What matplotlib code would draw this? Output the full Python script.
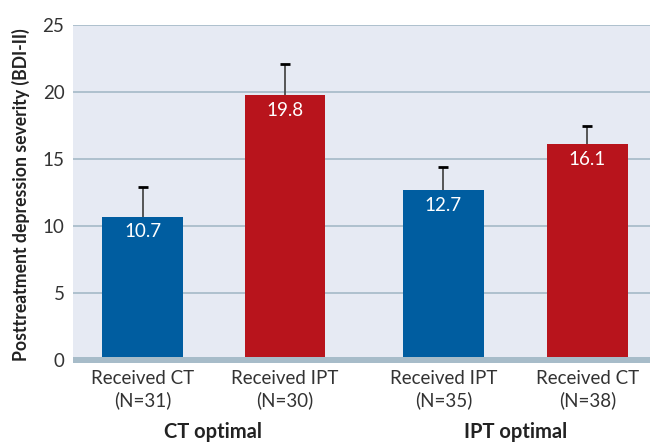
import matplotlib
matplotlib.use("Agg")
import matplotlib.pyplot as plt

# data
labels = ["Received CT\n(N=31)", "Received IPT\n(N=30)", "Received IPT\n(N=35)", "Received CT\n(N=38)"]
means = [10.7, 19.8, 12.7, 16.1]
err_top = [12.9, 22.1, 14.4, 17.5]
groups = ["CT optimal", "IPT optimal"]

blue = "#005DA0"
red = "#B8141C"
colors = [blue, red, blue, red]
xpos = [0, 1, 2.11, 3.12]

plt.rcParams['font.family'] = ['Lato', 'DejaVu Sans']

fig = plt.figure(figsize=(6.5, 4.42), dpi=100)
ax = fig.add_axes([0.112, 0.178, 0.888, 0.765])
ax.set_facecolor("#E6EAF3")

for y in [5, 10, 15, 20, 25]:
    ax.axhline(y, color="#AABDCB", lw=1.3, zorder=1)

errs = [t - m for t, m in zip(err_top, means)]
ax.bar(xpos, means, width=0.565, color=colors, zorder=3)
ax.errorbar(xpos, means, yerr=[[0] * 4, errs], fmt="none", ecolor="#555555",
            elinewidth=1.4, capsize=0, zorder=2)
# black caps
ax.errorbar(xpos, err_top, xerr=0.035, fmt="none", ecolor="black", elinewidth=2, zorder=4)

for x, m in zip(xpos, means):
    ax.text(x, m - 0.5, f"{m}", ha="center", va="top", color="white", fontsize=13.5, zorder=5)

ax.axhspan(-0.3, 0.22, color="#A7BCC9", zorder=4, lw=0)

ax.set_xlim(-0.49, 3.56)
ax.set_ylim(-0.25, 25)
ax.set_yticks([0, 5, 10, 15, 20, 25])
ax.set_xticks(xpos)
ax.set_xticklabels(labels, linespacing=1.25)
ax.tick_params(length=0, labelsize=13.5, labelcolor="#333333")
ax.tick_params(axis="x", pad=5)
ax.tick_params(axis="y", pad=6)
for s in ax.spines.values():
    s.set_visible(False)

ax.set_ylabel("Posttreatment depression severity (BDI-II)", fontsize=12.7,
              fontweight="bold", color="#222222", labelpad=9)

fig.text(213 / 650, 1 - 432 / 442, groups[0], ha="center", va="center",
         fontsize=14.5, fontweight="bold", color="#222222")
fig.text(516 / 650, 1 - 432 / 442, groups[1], ha="center", va="center",
         fontsize=14.5, fontweight="bold", color="#222222")

fig.savefig("out.png", dpi=100)
